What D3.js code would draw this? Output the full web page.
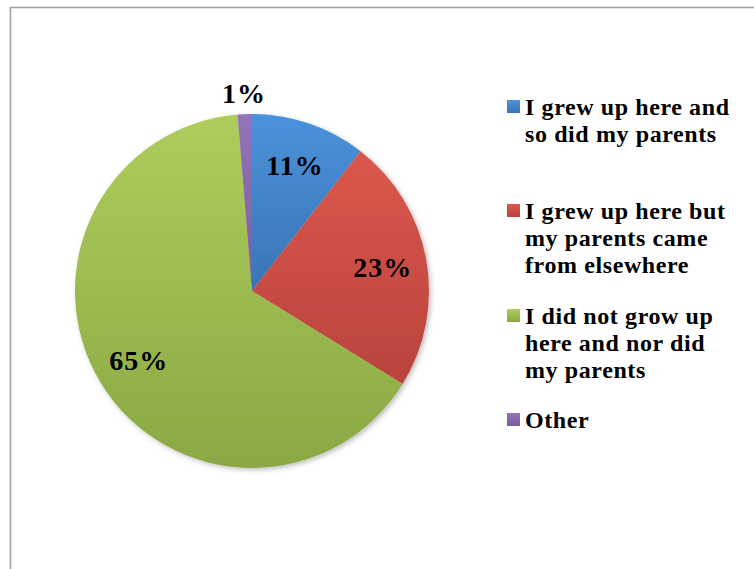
<!DOCTYPE html>
<html>
<head>
<meta charset="utf-8">
<script src="https://cdn.jsdelivr.net/npm/d3@7"></script>
<style>
  body { margin: 0; background: #fff; }
  svg { display: block; }
  text { font-family: "Liberation Serif", "DejaVu Serif", serif; font-weight: bold; fill: #000; }
</style>
</head>
<body>
<svg width="754" height="569"></svg>
<script>
// slice shares and the percentage labels printed on them
var categories = [
  ["I grew up here and", "so did my parents"],
  ["I grew up here but", "my parents came", "from elsewhere"],
  ["I did not grow up", "here and nor did", "my parents"],
  ["Other"]
];
var values = [10.5, 23.3, 64.9, 1.3];
var pctLabels = ["11%", "23%", "65%", "1%"];

var colorsTop = ["#4a92db", "#dc574c", "#aecd5c", "#9474b8"];
var colorsBottom = ["#3b74b4", "#b8443d", "#8aa844", "#7b5d9e"];

var svg = d3.select("svg"),
    width = +svg.attr("width"),
    height = +svg.attr("height");

// chart frame, runs off the right and bottom edge
svg.append("rect")
    .attr("x", 10.5)
    .attr("y", 7.5)
    .attr("width", width + 20)
    .attr("height", height + 20)
    .attr("fill", "none")
    .attr("stroke", "#a3a3a3")
    .attr("stroke-width", 1.6);

var defs = svg.append("defs");

colorsTop.forEach(function(c, i) {
  var g = defs.append("linearGradient")
      .attr("id", "grad" + i)
      .attr("x1", 0).attr("y1", 0)
      .attr("x2", 0).attr("y2", 1);
  g.append("stop").attr("offset", "0%").attr("stop-color", c);
  g.append("stop").attr("offset", "100%").attr("stop-color", colorsBottom[i]);
});

var shadow = defs.append("filter")
    .attr("id", "shadow")
    .attr("x", "-10%").attr("y", "-10%")
    .attr("width", "130%").attr("height", "130%");
shadow.append("feDropShadow")
    .attr("dx", 2).attr("dy", 2)
    .attr("stdDeviation", 2.5)
    .attr("flood-color", "#000")
    .attr("flood-opacity", 0.25);

var cx = 252, cy = 291, radius = 177;

var pie = d3.pie().sort(null).value(function(d) { return d; });
var arcs = pie(values);

var arc = d3.arc().innerRadius(0).outerRadius(radius);
var labelArc = d3.arc().innerRadius(radius * 0.75).outerRadius(radius * 0.75);
var outerArc = d3.arc().innerRadius(radius + 21).outerRadius(radius + 21);

var g = svg.append("g")
    .attr("transform", "translate(" + cx + "," + cy + ")");

g.append("g")
    .attr("filter", "url(#shadow)")
    .selectAll("path")
    .data(arcs)
    .enter()
    .append("path")
    .attr("d", arc)
    .attr("fill", function(d, i) { return "url(#grad" + i + ")"; });

g.append("g")
    .selectAll("text")
    .data(arcs)
    .enter()
    .append("text")
    .attr("transform", function(d, i) {
      var p = (d.data < 3 ? outerArc : labelArc).centroid(d);
      return "translate(" + p[0] + "," + p[1] + ")";
    })
    .attr("text-anchor", "middle")
    .attr("dy", "0.35em")
    .style("font-size", "28px")
    .style("letter-spacing", "1px")
    .text(function(d, i) { return pctLabels[i]; });

// legend
var legend = svg.append("g");
var itemY = [100, 204, 309, 413];
var lineH = 27;

categories.forEach(function(lines, i) {
  var item = legend.append("g");
  item.append("rect")
      .attr("x", 507)
      .attr("y", itemY[i])
      .attr("width", 13)
      .attr("height", 13)
      .attr("fill", "url(#grad" + i + ")");
  item.selectAll("text")
      .data(lines)
      .enter()
      .append("text")
      .attr("x", 525)
      .attr("y", function(d, j) { return itemY[i] + 15 + j * lineH; })
      .style("font-size", "24px")
      .style("letter-spacing", "0.6px")
      .text(function(d) { return d; });
});
</script>
</body>
</html>
